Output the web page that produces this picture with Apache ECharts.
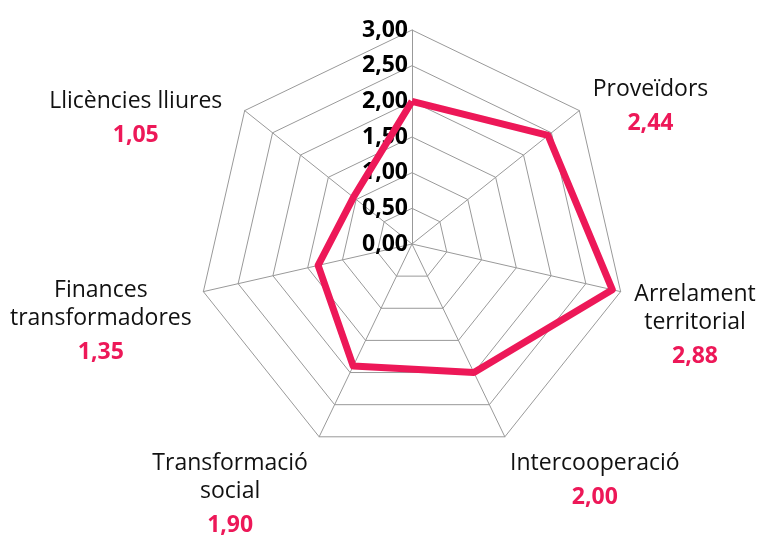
<!DOCTYPE html>
<html lang="ca">
<head>
    <meta charset="UTF-8">
    <script src="https://cdn.jsdelivr.net/npm/echarts@6/dist/echarts.min.js"></script>
    <title>Radar</title>
    <style>
        html, body { margin: 0; padding: 0; background: #fff; }
        #chart { width: 763px; height: 540px; }
    </style>
</head>
<body>
    <div id="chart"></div>
    <script>
        // axes, counter-clockwise starting from the top one (which has no name)
        var axisNames = ['', 'Llicències lliures', 'Finances\ntransformadores', 'Transformació\nsocial',
            'Intercooperació', 'Arrelament\nterritorial', 'Proveïdors'];
        var values = [2.00, 1.05, 1.35, 1.90, 2.00, 2.88, 2.44];
        var maxValue = 3;

        // name label nudges [dx, dy] (layout only)
        var labelNudge = [[0, 0], [-13, 18], [0, 30], [-6, 50], [0, 36], [2, 34], [4, 6]];
        var pink = '#ED1858';
        var font = 'Open Sans';

        function fmt(v) {
            return v.toFixed(2).replace('.', ',');
        }

        var indicators = axisNames.map(function (n, i) {
            var ind = { name: n || ' ', max: maxValue, min: 0 };
            if (i === 0) {
                ind.axisLabel = { show: true };
            }
            return ind;
        });

        // one set of rich styles per axis so each label can be nudged
        var rich = {};
        labelNudge.forEach(function (d, i) {
            // left half labels are right aligned, right half ones left aligned
            var pad = i <= 3 ? [0, -d[0], 0, 0] : [0, 0, 0, d[0]];
            rich['s' + i] = { fontSize: 1, lineHeight: Math.max(1, d[1] * 2) };
            rich['n' + i] = { fontFamily: font, fontSize: 23, color: '#111', lineHeight: 28, align: 'center', padding: pad };
            rich['v' + i] = { fontFamily: font, fontSize: 23, fontWeight: 'bold', color: pink, lineHeight: 40, align: 'center', padding: pad };
        });

        var chart = echarts.init(document.getElementById('chart'));
        chart.setOption({
            animation: false,
            radar: {
                center: [412, 244],
                radius: 214,
                startAngle: 90,
                splitNumber: 6,
                shape: 'polygon',
                indicator: indicators,
                axisName: {
                    formatter: function (name) {
                        var i = axisNames.indexOf(name);
                        if (i <= 0) return '';
                        var lines = name.split('\n').map(function (l) { return '{n' + i + '|' + l + '}'; }).join('\n');
                        return '{s' + i + '| }\n' + lines + '\n{v' + i + '|' + fmt(values[i]) + '}';
                    },
                    rich: rich
                },
                nameGap: 12,
                axisLabel: {
                    show: false,
                    fontFamily: font,
                    fontSize: 23,
                    fontWeight: 'bold',
                    color: '#000',
                    margin: 4,
                    padding: [0, 0, 16, 0],
                    formatter: function (v) { return fmt(v); }
                },
                axisTick: { show: false },
                axisLine: { lineStyle: { color: '#999', width: 1 } },
                splitLine: { lineStyle: { color: '#999', width: 1 } },
                splitArea: { show: false }
            },
            series: [{
                type: 'radar',
                symbol: 'none',
                lineStyle: { color: pink, width: 7 },
                data: [{ value: values }]
            }]
        });
    </script>
</body>
</html>
